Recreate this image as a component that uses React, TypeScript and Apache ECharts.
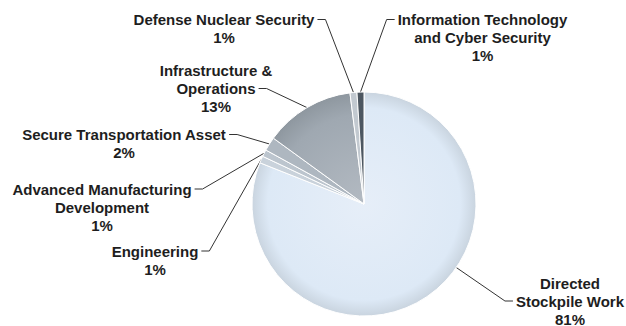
import React, { useEffect, useRef } from "react";
import * as echarts from "echarts";

const categories = [
  "Directed\nStockpile Work",
  "Engineering",
  "Advanced Manufacturing\nDevelopment",
  "Secure Transportation Asset",
  "Infrastructure &\nOperations",
  "Defense Nuclear Security",
  "Information Technology\nand Cyber Security",
];
const values = [81, 1, 1, 2, 13, 1, 1];
const percentLabels = ["81%", "1%", "1%", "2%", "13%", "1%", "1%"];
const colors = ["#dde9f6", "#c9d2db", "#bcc5ce", "#aeb7c0", "#9ea7b0", "#c2c9d0", "#4d5761"];

// label layout (positions only, not data)
const labelPos: [number, number][] = [
  [570, 301],
  [155, 260],
  [102, 207],
  [124, 143.5],
  [216, 88.5],
  [224, 28.5],
  [482.5, 37.5],
];
const anchorLine = [1, 0, 0, 0, 1, 0, 0];
const anchorSide = ["left", "right", "right", "right", "right", "right", "left"];
const attachNearest = [true, false, false, false, false, false, false];

const FONT_SIZE = 15;
const LINE_H = 18;
const FONT_FAMILY = "Liberation Sans, Arial, sans-serif";

let measureCtx: CanvasRenderingContext2D | null = null;
function measure(text: string): number {
  if (!measureCtx) {
    const c = document.createElement("canvas");
    measureCtx = c.getContext("2d");
  }
  if (!measureCtx) return text.length * 8;
  measureCtx.font = `bold ${FONT_SIZE}px "Liberation Sans", Arial, sans-serif`;
  return measureCtx.measureText(text).width;
}

function labelText(i: number) {
  return `${categories[i]}\n${percentLabels[i]}`;
}

export default function App() {
  const ref = useRef<HTMLDivElement>(null);
  useEffect(() => {
    if (!ref.current) return;
    const chart = echarts.init(ref.current, null, { renderer: "svg" });
    const cx = 364;
    const cy = 204;
    const r = 112;
    chart.setOption({
      animation: false,
      backgroundColor: "#ffffff",
      series: [
        {
          type: "pie",
          center: [cx, cy],
          radius: [0, r],
          startAngle: 90,
          clockwise: true,
          avoidLabelOverlap: false,
          itemStyle: { borderColor: "#ffffff", borderWidth: 1 },
          label: {
            show: true,
            position: "outside",
            color: "#1e1e1e",
            fontFamily: FONT_FAMILY,
            fontWeight: "bold",
            fontSize: FONT_SIZE,
            lineHeight: LINE_H,
            align: "center",
            formatter: (p: any) => labelText(p.dataIndex),
          },
          labelLine: {
            show: true,
            length: 15,
            length2: 10,
            lineStyle: { color: "#333333", width: 1 },
          },
          labelLayout: (p: any) => {
            const i = p.dataIndex;
            const [x, y] = labelPos[i];
            const lines = labelText(i).split("\n");
            const n = lines.length;
            const top = y - (n * LINE_H) / 2;
            const k = anchorLine[i];
            const ly = top + LINE_H * (k + 0.5);
            const w = measure(lines[k]);
            const right = anchorSide[i] === "right";
            const tx = right ? x + w / 2 + 3 : x - w / 2 - 3;
            const hx = right ? tx + 8 : tx - 8;
            let p0: number[] =
              p.labelLinePoints && p.labelLinePoints[0]
                ? p.labelLinePoints[0]
                : [cx, cy];
            if (attachNearest[i]) {
              const dx = hx - cx;
              const dy = ly - cy;
              const d = Math.hypot(dx, dy);
              p0 = [cx + (dx / d) * r, cy + (dy / d) * r];
            }
            return {
              x,
              y,
              align: "center",
              verticalAlign: "middle",
              labelLinePoints: [p0, [hx, ly], [tx, ly]],
            };
          },
          data: categories.map((name, i) => ({
            name,
            value: values[i],
            itemStyle:
              i === 0
                ? {
                    color: {
                      type: "radial",
                      x: cx,
                      y: cy,
                      r: r,
                      global: true,
                      colorStops: [
                        { offset: 0, color: "#e6eef8" },
                        { offset: 0.86, color: "#dde9f6" },
                        { offset: 1, color: "#c9d4df" },
                      ],
                    },
                  }
                : i === 4
                ? {
                    color: {
                      type: "radial",
                      x: cx,
                      y: cy,
                      r: r,
                      global: true,
                      colorStops: [
                        { offset: 0, color: "#b3bac2" },
                        { offset: 0.8, color: "#9fa8b1" },
                        { offset: 1, color: "#8e979f" },
                      ],
                    },
                  }
                : { color: colors[i] },
          })),
        },
      ],
    });
    return () => chart.dispose();
  }, []);
  return (
    <div
      ref={ref}
      style={{ position: "fixed", left: 0, top: 0, width: 626, height: 326 }}
    />
  );
}
